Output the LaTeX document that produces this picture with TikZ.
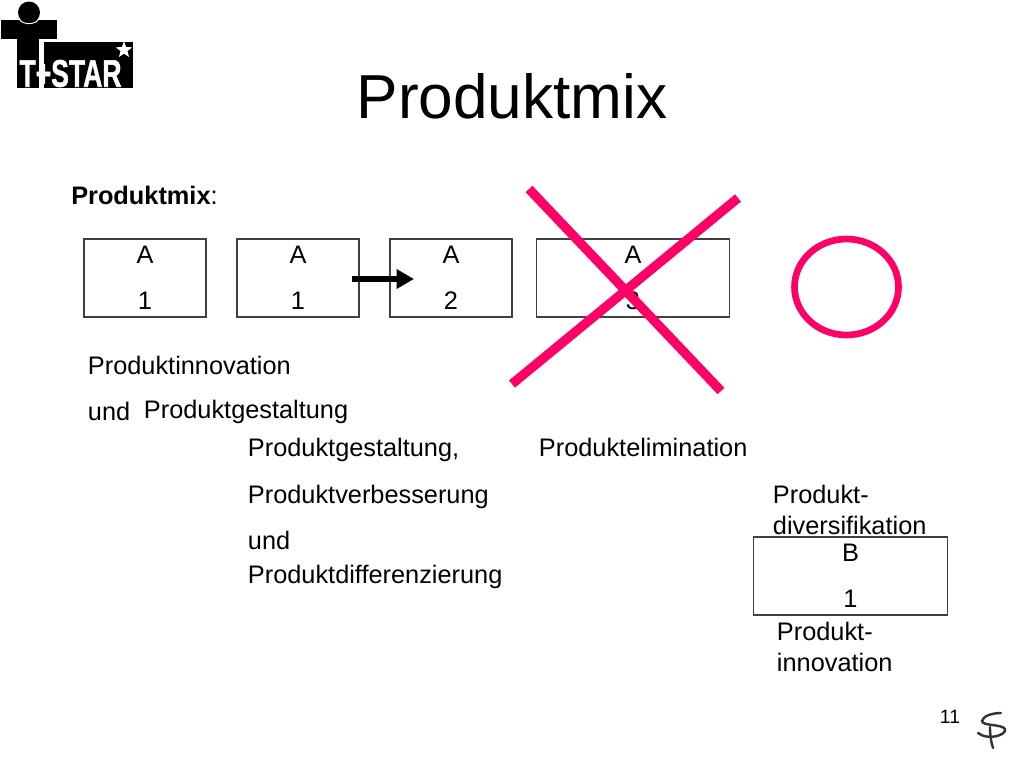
\documentclass[tikz,border=0pt]{standalone}
\usepackage{fontspec}
\setmainfont{Liberation Sans}
\newfontfamily\logofont[FakeBold=1.5]{Liberation Sans Bold}
\usetikzlibrary{arrows.meta,shapes.geometric}
\definecolor{pink}{HTML}{FF0066}
\tikzset{
  txt/.style={anchor=base west,inner sep=0pt,font=\fontsize{19pt}{23.25pt}\selectfont,align=left},
  boxed/.style={draw=black!75,line width=.8pt,inner sep=0pt,align=center,font=\fontsize{19pt}{34.5pt}\selectfont},
  cross/.style={pink,line width=7pt},
  sign/.style={black!80,line width=1.8pt,line cap=round}
}
\begin{document}
\begin{tikzpicture}[x=0.75pt,y=-0.75pt]
\useasboundingbox (0,0) rectangle (1024,768);
% logo
\fill (1,19.5) rectangle (56.5,38.5);
\fill (17,38) rectangle (39,87.5);
\fill (43.5,42) rectangle (133,87.5);
\fill (29,12.5) circle (11);
\draw[white,line width=.7pt] (19.5,19.5) .. controls (23,25) and (35,25) .. (38.5,19.5);
\node[white,inner sep=0pt,anchor=center,font=\logofont\fontsize{24pt}{24pt}\selectfont,xscale=.83,yscale=1.2] (logotext) at (70.5,73.5) {T+STAR};
\node[white,star,star points=5,star point ratio=2.4,fill=white,inner sep=0pt,minimum size=13pt] (logostar) at (124,50) {};
% title
\node[anchor=base,inner sep=0pt,font=\fontsize{46.6pt}{50pt}\selectfont] (title) at (512,118) {Produktmix};
\node[txt] (lead) at (71,204) {\textbf{Produktmix}:};
% boxes
\node[boxed,minimum width=91.5pt,minimum height=58.5pt] (b1) at (145,278) {A\\1};
\node[boxed,minimum width=91.5pt,minimum height=58.5pt] (b2) at (298,278) {A\\1};
\node[boxed,minimum width=91.5pt,minimum height=58.5pt] (b3) at (451,278) {A\\2};
\node[boxed,minimum width=145pt,minimum height=58.5pt] (b4) at (633,278) {A\\3};
\node[boxed,minimum width=145pt,minimum height=58.5pt] (b5) at (850.5,576) {B\\1};
\coordinate (arS) at (352,279);
\coordinate (arE) at (414,279);
\draw[line width=4pt,-{Triangle[length=13pt,width=14pt]}] (arS) -- (arE);
% texts
\node[txt] (t1) at (87.7,374) {Produktinnovation};
\node[txt] (t2) at (87.7,420) {und};
\node[txt] (t3) at (143.7,418) {Produktgestaltung};
\node[txt] (t4) at (247.7,456) {Produktgestaltung,};
\node[txt] (t5) at (247.7,503) {Produktverbesserung};
\node[txt] (t6) at (247.7,549) {und};
\node[txt] (t7) at (247.7,583) {Produktdifferenzierung};
\node[txt] (t8) at (538.7,456) {Produktelimination};
\node[txt] (t9) at (772.7,503) {Produkt-};
\node[txt] (t10) at (772.7,534) {diversifikation};
\node[txt] (t11) at (776.7,640) {Produkt-};
\node[txt] (t12) at (776.7,671) {innovation};
% cross & circle
\coordinate (c1) at (529,189); \coordinate (c2) at (721,391);
\coordinate (c3) at (738,198); \coordinate (c4) at (512,384);
\draw[cross] (c1) -- (c2);
\draw[cross] (c3) -- (c4);
\node[draw=pink,line width=5pt,ellipse,minimum width=78pt,minimum height=72pt,inner sep=0pt] (ring) at (846.5,287) {};
% footer
\node[anchor=base,inner sep=0pt,font=\fontsize{14.5pt}{16pt}\selectfont] (page) at (950,723) {11};
\draw[sign] (1001,713) .. controls (992,713) and (983,716) .. (982,721) .. controls (982,726) and (1002,724) .. (1005,729) .. controls (1007,735) and (988,741) .. (978,733);
\draw[sign] (990,727) .. controls (990,735) and (991,742) .. (993,748);
\end{tikzpicture}
\end{document}
